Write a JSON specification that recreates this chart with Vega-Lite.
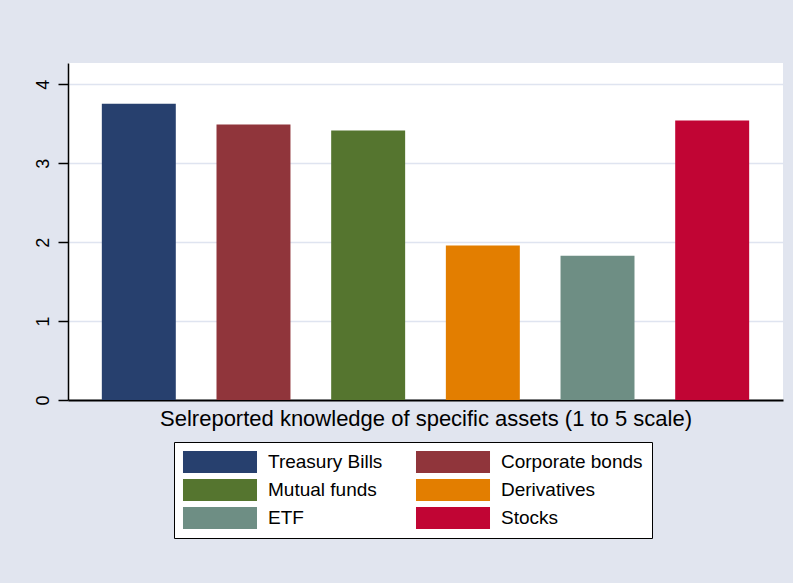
{
  "$schema": "https://vega.github.io/schema/vega-lite/v6.json",
  "width": 715,
  "height": 337,
  "autosize": {"type": "none"},
  "padding": {"left": 68, "top": 63, "right": 10, "bottom": 183},
  "background": "#e1e5ef",
  "title": {
    "text": "Figure 1: Selfreported knowledge of assets",
    "anchor": "start",
    "frame": "group",
    "font": "Liberation Serif",
    "fontSize": 33,
    "fontWeight": "bold",
    "color": "black",
    "baseline": "alphabetic",
    "offset": 37,
    "dx": -17
  },
  "data": {
    "values": [
      {"asset": "Treasury Bills", "value": 3.755},
      {"asset": "Corporate bonds", "value": 3.49},
      {"asset": "Mutual funds", "value": 3.414},
      {"asset": "Derivatives", "value": 1.958},
      {"asset": "ETF", "value": 1.828},
      {"asset": "Stocks", "value": 3.54}
    ]
  },
  "mark": {"type": "bar"},
  "encoding": {
    "x": {
      "field": "asset",
      "type": "nominal",
      "sort": ["Treasury Bills", "Corporate bonds", "Mutual funds", "Derivatives", "ETF", "Stocks"],
      "scale": {"paddingInner": 0.355, "paddingOuter": 0.295},
      "axis": {
        "labels": false,
        "ticks": false,
        "grid": false,
        "title": "Selreported knowledge of specific assets (1 to 5 scale)",
        "titleFont": "Liberation Sans",
        "titleFontSize": 22,
        "titleFontWeight": "normal",
        "titleColor": "black",
        "titlePadding": 8,
        "domainColor": "black",
        "domainWidth": 2
      }
    },
    "y": {
      "field": "value",
      "type": "quantitative",
      "scale": {"domain": [0, 4.27], "nice": false},
      "axis": {
        "values": [0, 1, 2, 3, 4],
        "title": null,
        "labelAngle": -90,
        "labelAlign": "center",
        "labelBaseline": "bottom",
        "labelFont": "Liberation Sans",
        "labelFontSize": 18,
        "labelColor": "black",
        "labelPadding": 6,
        "tickSize": 10,
        "tickColor": "black",
        "tickWidth": 1.5,
        "domainColor": "black",
        "domainWidth": 1.5,
        "grid": true,
        "gridColor": "#dfe4f0",
        "gridWidth": 1.5
      }
    },
    "color": {
      "field": "asset",
      "type": "nominal",
      "sort": null,
      "scale": {
        "domain": ["Treasury Bills", "Mutual funds", "ETF", "Corporate bonds", "Derivatives", "Stocks"],
        "range": ["#27406e", "#55752f", "#6e8e84", "#90353b", "#e37e00", "#c10534"]
      },
      "legend": {
        "orient": "none",
        "legendX": 106,
        "legendY": 379,
        "columns": 2,
        "title": null,
        "symbolType": "M-3.364,-1H3.364V1H-3.364Z",
        "symbolSize": 484,
        "symbolStrokeWidth": 0,
        "symbolOpacity": 1,
        "symbolOffset": 26,
        "labelOffset": 37,
        "labelFont": "Liberation Sans",
        "labelFontSize": 19,
        "labelColor": "black",
        "labelLimit": 300,
        "rowPadding": 6,
        "columnPadding": 32,
        "padding": 9,
        "fillColor": "white",
        "strokeColor": "black"
      }
    }
  },
  "config": {"view": {"fill": "white", "stroke": null}}
}
